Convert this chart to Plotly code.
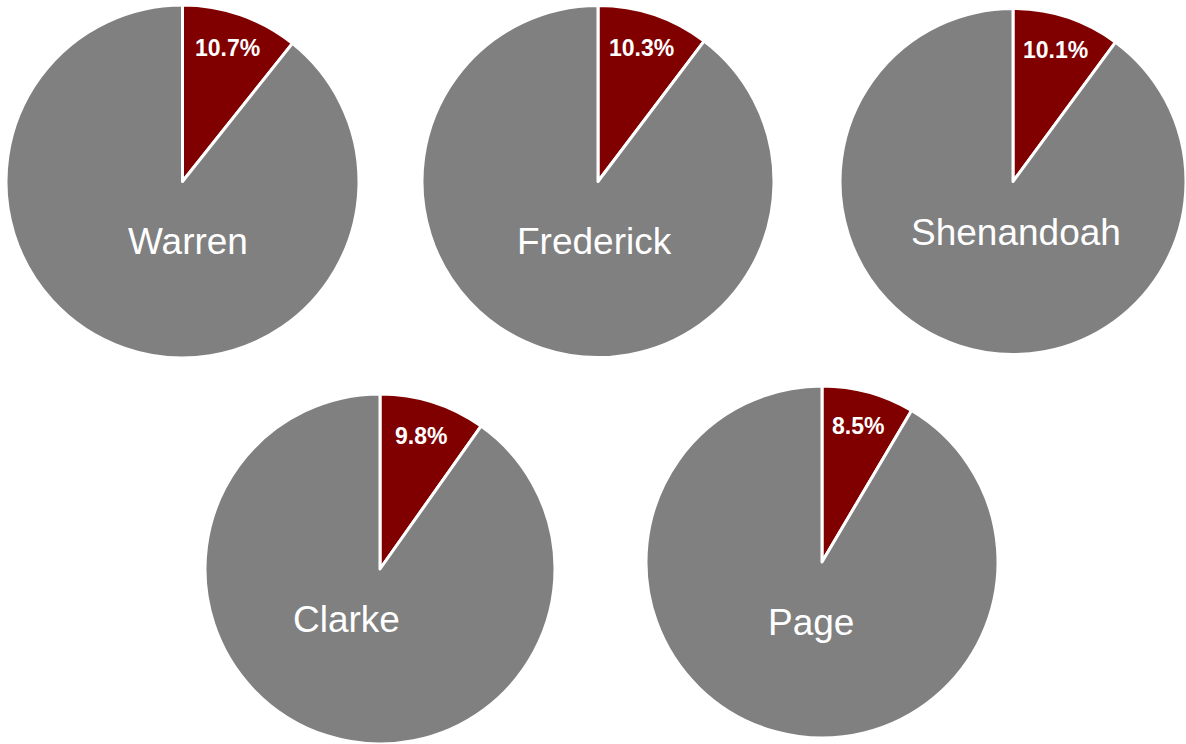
import math
import plotly.graph_objects as go

counties = ["Warren", "Frederick", "Shenandoah", "Clarke", "Page"]
share_pct = [10.7, 10.3, 10.1, 9.8, 8.5]

W, H = 1186, 744
# pie bounding boxes in pixels: left, top, right, bottom
boxes = [(6, 5, 359, 358), (422, 5, 774, 358), (840, 5, 1186, 358),
         (204, 394, 556, 744), (646, 386, 998, 738)]
# county-name label offsets from pie centre (px)
name_offsets = [(6, 60), (-4, 60), (3, 51), (-34, 50), (-11, 60)]

RED = "#800000"
GRAY = "#808080"
FONT = "Liberation Sans, Arial, sans-serif"

fig = go.Figure()
annotations = []
for name, pct, box, off in zip(counties, share_pct, boxes, name_offsets):
    l, t, r, b = box
    fig.add_trace(go.Pie(
        labels=["Share", "Rest"],
        values=[pct, 100 - pct],
        sort=False, direction="clockwise", rotation=0,
        marker=dict(colors=[RED, GRAY], line=dict(color="white", width=3)),
        textinfo="none", hoverinfo="label+percent", showlegend=False,
        domain=dict(x=[l / W, r / W], y=[1 - b / H, 1 - t / H]),
    ))
    cx, cy = (l + r) / 2, (t + b) / 2
    R = min(r - l, b - t) / 2
    ang = math.radians(pct / 100 * 360 / 2)
    px = cx + 0.78 * R * math.sin(ang)
    py = cy - 0.80 * R * math.cos(ang)
    annotations.append(dict(
        x=px / W, y=1 - py / H, xref="paper", yref="paper", showarrow=False,
        text=f"<b>{pct:.1f}%</b>", xanchor="center", yanchor="middle",
        font=dict(family=FONT, size=23, color="white"),
    ))
    annotations.append(dict(
        x=(cx + off[0]) / W, y=1 - (cy + off[1]) / H, xref="paper", yref="paper",
        showarrow=False, text=name, xanchor="center", yanchor="middle",
        font=dict(family=FONT, size=37, color="white"),
    ))

fig.update_layout(
    width=W, height=H,
    margin=dict(l=0, r=0, t=0, b=0),
    paper_bgcolor="white", plot_bgcolor="white",
    annotations=annotations,
)
fig.write_html("out.html", config={"displayModeBar": False},
               post_script="document.body.style.margin='0';")
